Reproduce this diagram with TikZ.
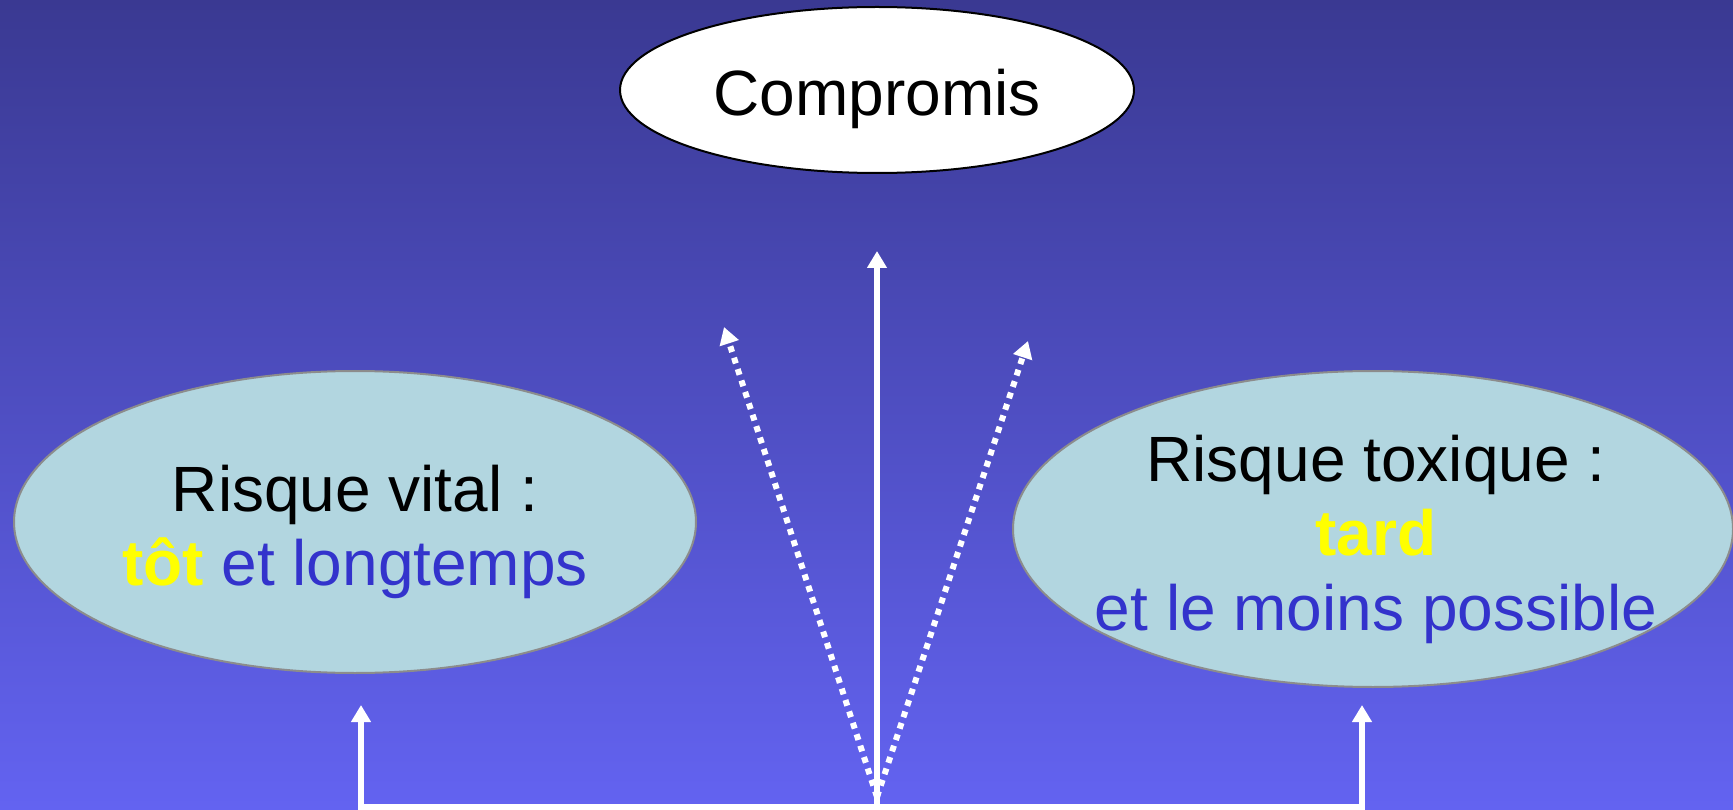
\documentclass[tikz,border=0pt]{standalone}
\usepackage{fontspec}
\setmainfont{Liberation Sans}
\usetikzlibrary{shapes.geometric,arrows.meta,calc}
\definecolor{bgtop}{RGB}{58,57,146}
\definecolor{bgbot}{RGB}{99,99,241}
\definecolor{ellfill}{RGB}{178,214,224}
\definecolor{ellline}{RGB}{140,140,140}
\definecolor{txtblue}{RGB}{51,51,204}
\definecolor{hl}{RGB}{255,255,0}
\begin{document}
\begin{tikzpicture}[x=1pt,y=-1pt,
  bubble/.style={ellipse, draw=ellline, line width=2pt, fill=ellfill, inner sep=0pt},
  topbubble/.style={ellipse, draw=black, line width=2pt, fill=white, inner sep=0pt},
  lbl/.style={inner sep=0pt, align=center, font=\fontsize{64}{74.5}\selectfont},
  arr/.style={draw=white, line width=6pt, -{Triangle[length=17pt,width=19pt]}},
  dots/.style={draw=white, line width=6pt, dash pattern=on 6pt off 6pt, -{Triangle[length=17pt,width=19pt]}}
]
\useasboundingbox (0,0) rectangle (1733,810);
\shade[top color=bgtop, bottom color=bgbot] (0,0) rectangle (1733,810);

% ellipses
\node[topbubble, minimum width=514pt, minimum height=166pt] (comp) at (877,90) {};
\node[bubble, minimum width=682pt, minimum height=302pt] (vital) at (355,522) {};
\node[bubble, minimum width=720pt, minimum height=316pt] (toxic) at (1373,529) {};

% texts
\node[lbl] (compt) at (877,116) {\rule[-50pt]{0pt}{100pt}Compromis};
\node[lbl] (vitalt) at (355,548.5) {\rule{0pt}{50pt}Risque vital :\\
  \textcolor{hl}{\textbf{tôt}} \textcolor{txtblue}{et longtemps}\rule[-50pt]{0pt}{50pt}};
\node[lbl] (toxict) at (1376,555.5) {\rule{0pt}{50pt}Risque toxique :\\
  \textcolor{hl}{\textbf{tard}}\\
  \textcolor{txtblue}{et le moins possible}\rule[-50pt]{0pt}{50pt}};

% connectors
\coordinate (hub) at (877,807);
\coordinate (hubd) at (877,797);
\coordinate (tipL) at (361,705);
\coordinate (tipR) at (1362,705);
\coordinate (tipC) at (877,251);
\coordinate (tipDL) at (724,327);
\coordinate (tipDR) at (1028,341);

\draw[arr] (hub) -| (tipL);
\draw[arr] (hub) -| (tipR);
\draw[arr] (hub) -- (tipC);
\draw[dots] (hubd) -- (tipDL);
\draw[dots] (hubd) -- (tipDR);
\end{tikzpicture}
\end{document}
